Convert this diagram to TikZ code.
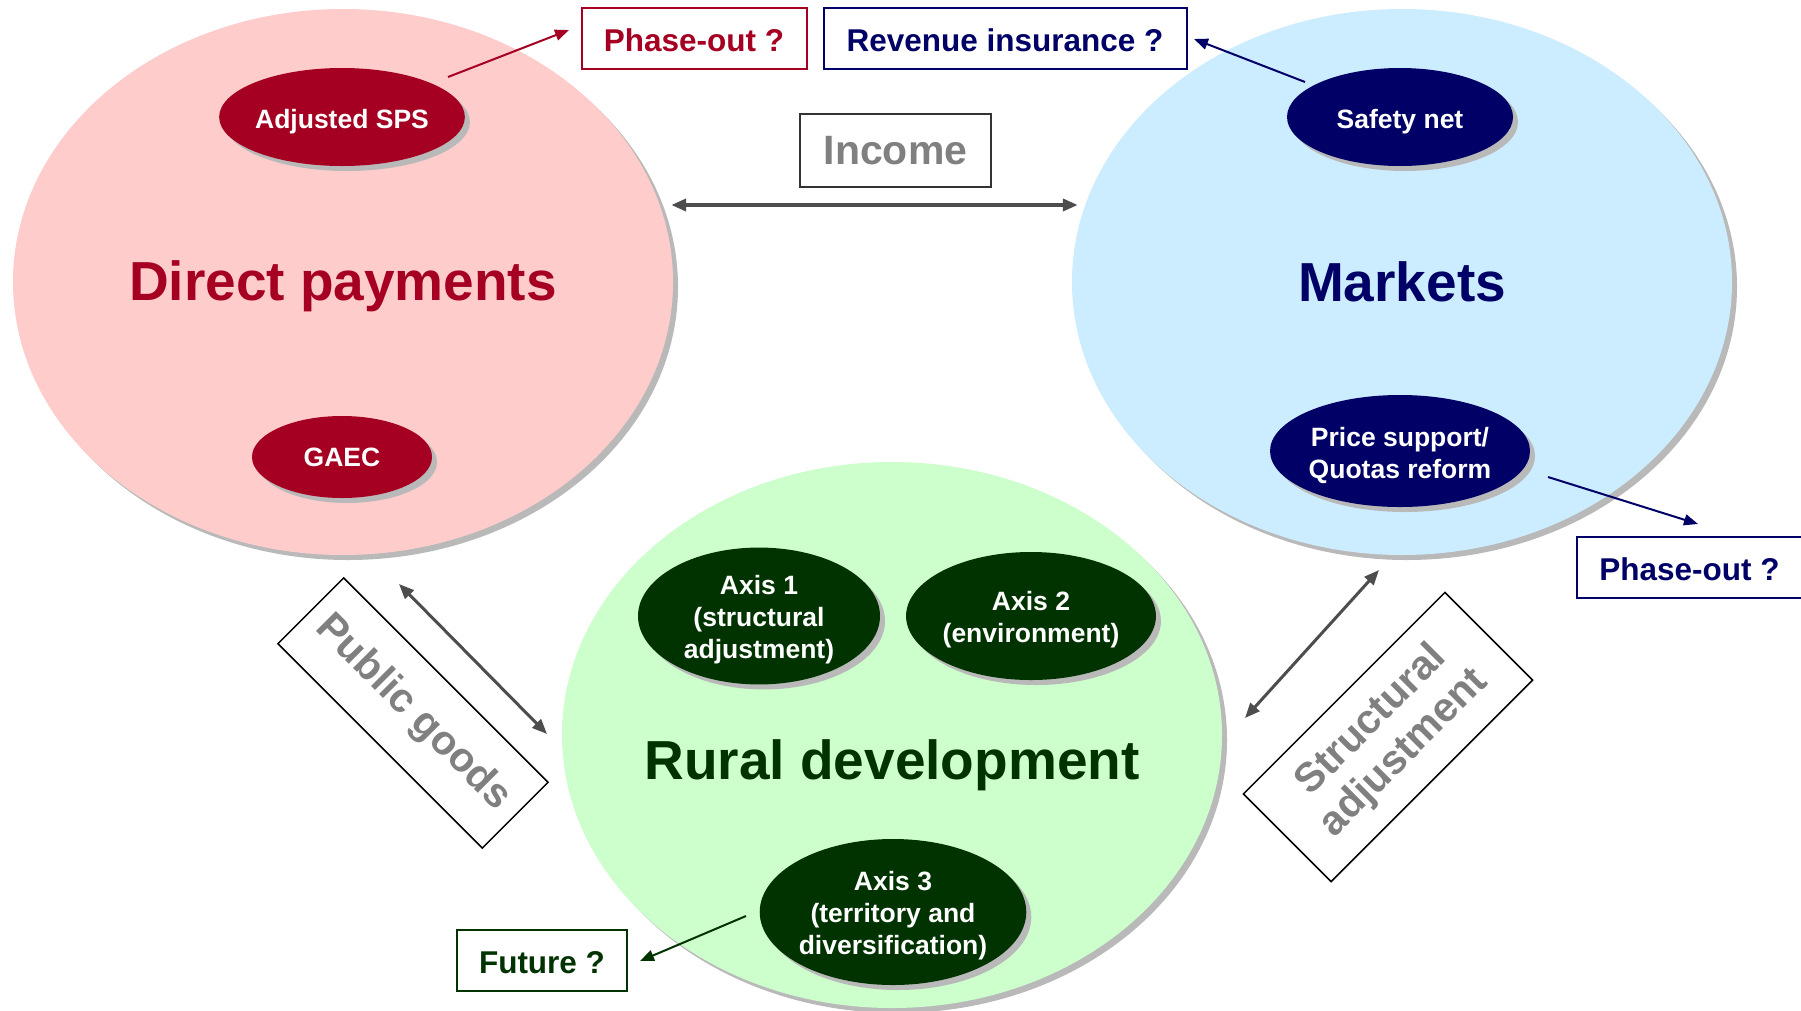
\documentclass[tikz,border=0pt]{standalone}
\usepackage{fontspec}
\setmainfont{Liberation Sans}
\usetikzlibrary{arrows.meta,positioning,shapes.geometric,shadows}

\definecolor{dpred}{HTML}{A50021}
\definecolor{dpfill}{HTML}{FFCCCC}
\definecolor{mknavy}{HTML}{000066}
\definecolor{mkfill}{HTML}{CCECFF}
\definecolor{rdgreen}{HTML}{003300}
\definecolor{rdfill}{HTML}{CCFFCC}
\definecolor{relgray}{HTML}{4D4D4D}
\definecolor{labelgray}{HTML}{808080}

\newcommand{\firstlinelift}{\rule{0pt}{1.03em}}

\begin{document}
\begin{tikzpicture}[
				x=1pt, y=-1pt,
				shadowed/.style={drop shadow={shadow xshift=5pt, shadow yshift=-5pt, fill=gray!55, opacity=1}},
				pillar/.style={ellipse, shadowed, minimum width=660pt, minimum height=546pt, inner sep=0pt},
				pillarlabel/.style={font=\fontsize{55}{60}\selectfont\bfseries},
				tool/.style={ellipse, shadowed, inner sep=0pt, text=white, align=center, font=\fontsize{26.5}{32}\selectfont\bfseries},
				lowered/.style={execute at begin node={\rule{0pt}{1.06em}}},
				question/.style={draw, line width=2pt, fill=white, minimum height=61pt, font=\fontsize{31.5}{36}\selectfont\bfseries,
					execute at begin node={\rule{0pt}{0.865em}}},
				relation/.style={draw, line width=1.5pt, text=labelgray, align=center, font=\fontsize{41}{46}\selectfont\bfseries},
				biarrow/.style={relgray, line width=3pt, {Triangle[length=15pt,width=12pt]}-{Triangle[length=15pt,width=12pt]}},
				arrow/.style={line width=2pt, -{Triangle[length=14pt,width=11pt]}},
			]
				\useasboundingbox (0,0) rectangle (1801,1010);
				\fill[white] (0,0) rectangle (1801,1010);

				% three pillars
				\node[pillar, fill=dpfill] (direct) at (343,282) {};
				\node[pillar, fill=mkfill] (markets) at (1402,282) {};
				\node[pillar, fill=rdfill] (rural) at (892,735) {};

				\node[pillarlabel, text=dpred] (directlabel) at (343,286) {Direct payments};
				\node[pillarlabel, text=mknavy] (marketslabel) at (markets) {Markets};
				\node[pillarlabel, text=rdgreen] (rurallabel) at (892,765) {Rural development};

				% instruments
				\node[tool, lowered, fill=dpred, minimum width=242pt, minimum height=98pt] (sps) at (342,117) {Adjusted SPS};
				\node[tool, fill=dpred, minimum width=180pt, minimum height=82pt] (gaec) at (342,457) {GAEC};
				\node[tool, lowered, fill=mknavy, minimum width=226pt, minimum height=98pt] (safety) at (1400,117) {Safety net};
				\node[tool, fill=mknavy, minimum width=260pt, minimum height=112pt] (price) at (1400,451) {\firstlinelift Price support/\\Quotas reform};
				\node[tool, fill=rdgreen, minimum width=242pt, minimum height=128pt] (axisone) at (759,616) {\firstlinelift Axis 1\\(structural\\adjustment)};
				\node[tool, fill=rdgreen, minimum width=242pt, minimum height=128pt] (axistwo) at (1031,616) {\firstlinelift Axis 2\\(environment)};
				\node[tool, fill=rdgreen, minimum width=258pt, minimum height=146pt] (axisthree) at (893,912) {\firstlinelift Axis 3\\(territory and\\diversification)};

				% questions
				\node[question, draw=dpred, text=dpred, minimum width=225pt] (phaseoutdp) at (694,38.5) {Phase-out ?};
				\node[question, draw=mknavy, text=mknavy, minimum width=363pt, right=15pt of phaseoutdp] (revenue) {Revenue insurance ?};
				\node[question, draw=mknavy, text=mknavy, minimum width=225pt] (phaseoutmk) at (1689.5,567) {Phase-out ?};
				\node[question, draw=rdgreen, text=rdgreen, minimum width=170pt] (future) at (542,960) {Future ?};

				% relations between pillars
				\node[relation, draw=black!80, minimum width=191pt, minimum height=73pt] (income) at (895.5,150.5) {Income};
				\node[relation, draw=black, rotate=-45, minimum width=289pt, minimum height=93pt] (publicgoods) at (413,713) {Public goods};
				\node[relation, draw=black, rotate=45, minimum width=285pt, minimum height=124pt] (structural) at (1388,737) {Structural\\adjustment};

				\coordinate (pgtop) at (399,584);
				\coordinate (pgbottom) at (547,734);
				\coordinate (satop) at (1379,570);
				\coordinate (sabottom) at (1245,718);

				\draw[biarrow, line width=4pt] ([yshift=77pt, xshift=-2pt]direct.east) -- ([yshift=77pt, xshift=6pt]markets.west);
				\draw[biarrow] (pgtop) -- (pgbottom);
				\draw[biarrow] (satop) -- (sabottom);

				% outlooks
				\coordinate (spsout) at (448,77);
				\coordinate (spsin) at (569,30);
				\coordinate (safetyout) at (1305,82);
				\coordinate (safetyin) at (1194,39);
				\coordinate (priceout) at (1548,477);
				\coordinate (pricein) at (1698,524);
				\coordinate (axisout) at (746,916);
				\coordinate (axisin) at (640,961);

				\draw[arrow, dpred] (spsout) -- (spsin);
				\draw[arrow, mknavy] (safetyout) -- (safetyin);
				\draw[arrow, mknavy] (priceout) -- (pricein);
				\draw[arrow, rdgreen] (axisout) -- (axisin);
			\end{tikzpicture}
\end{document}
